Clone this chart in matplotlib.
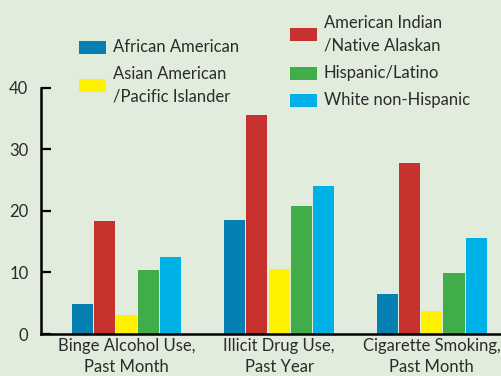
import numpy as np
import matplotlib.pyplot as plt
from matplotlib.patches import Rectangle

# data
categories = ["Binge Alcohol Use,\nPast Month", "Illicit Drug Use,\nPast Year",
              "Cigarette Smoking,\nPast Month"]
series_names = ["African American", "American Indian\n/Native Alaskan",
                "Asian American\n/Pacific Islander", "Hispanic/Latino",
                "White non-Hispanic"]
african_american = [4.9, 18.5, 6.5]
american_indian = [18.3, 35.6, 27.8]
asian_american = [3.1, 10.6, 3.7]
hispanic_latino = [10.4, 20.8, 9.9]
white_non_hispanic = [12.5, 24.0, 15.6]
yticks = [0, 10, 20, 30, 40]

values = [african_american, american_indian, asian_american,
          hispanic_latino, white_non_hispanic]
colors = ["#0680b3", "#c7322e", "#fff200", "#41ad4a", "#00b1e8"]
bg = "#e1ecdc"
txt = "#2b2b2b"

plt.rcParams['font.family'] = ['Lato', 'DejaVu Sans']

fig = plt.figure(figsize=(5.02, 3.76), dpi=100, facecolor=bg)
ax = fig.add_axes([0.0817, 0.1117, 0.9183, 0.6551])
ax.set_facecolor(bg)

x = np.arange(len(categories))
pitch = 0.1455
width = 0.138
for i, (vals, col) in enumerate(zip(values, colors)):
    ax.bar(x + (i - 2) * pitch, vals, width=width, color=col, linewidth=0)

ax.set_xlim(-0.56, 2.46)
ax.set_ylim(0, 40)
ax.set_yticks(yticks)
ax.set_xticks(x)
ax.set_xticklabels(categories, fontsize=12, color=txt, linespacing=1.35)
ax.tick_params(axis='x', length=0, pad=3)
ax.tick_params(axis='y', direction='in', length=7, width=1.6, pad=9,
               labelsize=12, labelcolor=txt)
for s in ['top', 'right']:
    ax.spines[s].set_visible(False)
for s in ['left', 'bottom']:
    ax.spines[s].set_linewidth(1.8)
    ax.spines[s].set_color('black')

# hand-placed legend (two columns, uneven spacing like the original)
leg_pos = [(79, 47), (290, 34), (79, 85), (290, 73), (290, 100)]
W, H = 502.0, 376.0
for (px, py), name, col in zip(leg_pos, series_names, colors):
    fig.patches.append(Rectangle((px / W, 1 - (py + 6.5) / H), 27 / W, 13 / H,
                                 transform=fig.transFigure, color=col, lw=0))
    fig.text((px + 34) / W, 1 - py / H, name, fontsize=12, color=txt,
             va='center', ha='left', linespacing=1.5)

fig.savefig("out.png", dpi=100, facecolor=bg)
